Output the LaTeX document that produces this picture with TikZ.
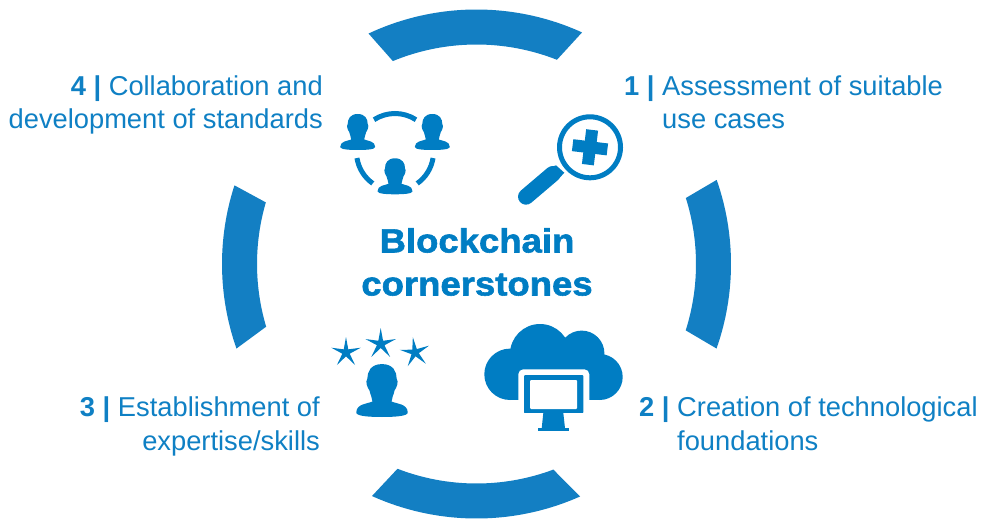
\documentclass[tikz,border=0pt]{standalone}
\usepackage{fontspec}
\setmainfont{Liberation Sans}
\newfontfamily\heavyfont[FakeStretch=1.09,FakeBold=1.7]{Liberation Sans Bold}
\definecolor{arcblue}{HTML}{137FC3}
\definecolor{iconblue}{HTML}{007DC3}
\definecolor{textblue}{HTML}{0F80C4}
\tikzset{
  bandarc/.style={fill=arcblue,draw=none},
  iconfill/.style={fill=iconblue,draw=none},
  ringseg/.style={draw=iconblue,line width=5pt,line cap=butt},
  sidelabel/.style={text=textblue,inner sep=0pt,font=\fontsize{27.3}{33.5}\selectfont},
  titlelabel/.style={text=iconblue,inner sep=0pt,align=center,font=\fontsize{33.5}{43}\heavyfont},
}
\newcommand{\personicon}[3]{%
  \fill[iconfill,shift={(#1,#2)},scale=#3]
    (0,-36) .. controls (7.5,-36) and (10,-31) .. (10,-26)
    .. controls (11.5,-24) and (10,-20) .. (8.5,-18)
    .. controls (8,-15) and (6.5,-13) .. (6.5,-10.5)
    .. controls (10,-9) and (17.5,-9) .. (17.5,-3)
    .. controls (17.5,-0.5) and (8,0) .. (0,0)
    .. controls (-8,0) and (-17.5,-0.5) .. (-17.5,-3)
    .. controls (-17.5,-9) and (-10,-9) .. (-6.5,-10.5)
    .. controls (-6.5,-13) and (-8,-15) .. (-8.5,-18)
    .. controls (-10,-20) and (-11.5,-24) .. (-10,-26)
    .. controls (-10,-31) and (-7.5,-36) .. (0,-36) -- cycle;}
\newcommand{\staricon}[4]{%
  \begin{scope}[shift={(#1,#2)},rotate=#4]
    \fill[iconfill] (90:#3pt) -- (126:0.25*#3pt) -- (162:#3pt) -- (198:0.25*#3pt)
      -- (234:#3pt) -- (270:0.25*#3pt) -- (306:#3pt) -- (342:0.25*#3pt)
      -- (18:#3pt) -- (54:0.25*#3pt) -- cycle;
  \end{scope}}
\begin{document}
\begin{tikzpicture}
\useasboundingbox (0,0) rectangle (982pt,520pt);
% ring bands
\begin{scope}[shift={(476.5pt,256pt)}]
  \fill[bandarc] (115.1:254.5pt) arc[start angle=115.1,end angle=65.5,radius=254.5pt]
    -- (68.5:219.5pt) arc[start angle=68.5,end angle=112.4,radius=219.5pt] -- cycle;
  \fill[bandarc] (245.75:254.5pt) arc[start angle=245.75,end angle=294,radius=254.5pt]
    -- (290.5:219.5pt) arc[start angle=290.5,end angle=248.9,radius=219.5pt] -- cycle;
  \fill[bandarc] (162:254.5pt) arc[start angle=162,end angle=199.4,radius=254.5pt]
    -- (196.6:219.5pt) arc[start angle=196.6,end angle=163.7,radius=219.5pt] -- cycle;
  \fill[bandarc] (19.3:254.5pt) arc[start angle=19.3,end angle=-19.4,radius=254.5pt]
    -- (-17.6:219.5pt) arc[start angle=-17.6,end angle=17.5,radius=219.5pt] -- cycle;
\end{scope}
% collaboration ring
\begin{scope}[shift={(395pt,368pt)}]
  \draw[ringseg] (57:38.5pt) arc[start angle=57,end angle=123,radius=38.5pt];
  \draw[ringseg] (189:38.5pt) arc[start angle=189,end angle=234.7,radius=38.5pt];
  \draw[ringseg] (-9:38.5pt) arc[start angle=-9,end angle=-54.7,radius=38.5pt];
\end{scope}
\begin{scope}[x=1pt,y=-1pt,yshift=520pt]
  % people
  \personicon{357.7}{150}{1}
  \personicon{432.3}{150}{1}
  \personicon{395}{194.3}{1}
  \personicon{382}{417}{1.47}
  % stars
  \staricon{346}{352.5}{15.5}{0}
  \staricon{380.7}{344}{16}{0}
  \staricon{415}{352.5}{15.5}{8}
  % magnifier
  \draw[draw=iconblue,line width=5pt] (590,147.3) circle[radius=30.5pt];
  \begin{scope}[shift={(590,147.3)},rotate=-7]
    \fill[iconfill] (-17.5,-6) rectangle (17.5,6);
    \fill[iconfill] (-6,-17.5) rectangle (6,17.5);
  \end{scope}
  \draw[draw=iconblue,line width=16pt,line cap=round] (526,196.7) -- (552.7,174);
  \fill[iconfill] (546.7,169) -- (556,165.3) -- (564.3,172.7) -- (558.3,179.3) -- cycle;
  % cloud
  \fill[iconfill] (510,374.3) circle[radius=25.7pt];
  \fill[iconfill] (599.7,377) circle[radius=23pt];
  \fill[iconfill] (540,354) circle[radius=30pt];
  \fill[iconfill] (581.7,353.3) circle[radius=22.7pt];
  \fill[iconfill] (510,360) rectangle (600,400);
  % monitor
  \fill[white,rounded corners=5pt] (518.3,369.3) rectangle (589.3,425);
  \fill[iconfill,rounded corners=1pt] (524,375) rectangle (583.3,413.3);
  \fill[white,rounded corners=1pt] (530,380) rectangle (577,409);
  \fill[white] (518.3,413.3) rectangle (589.3,432);
  \fill[iconfill] (543.3,413) -- (563.3,413) -- (565,428.3) -- (541.7,428.3) -- cycle;
  \fill[iconfill] (538.3,428.3) rectangle (569,430.5);
  % labels
  \node[titlelabel,anchor=center] (title) at (477,262) {Blockchain\\cornerstones};
  \node[sidelabel,align=right,anchor=north east] (four) at (323,75.2)
    {{\bfseries 4 | }Collaboration and\\development of standards};
  \node[sidelabel,align=left,anchor=north west] (one) at (662,75.2)
    {\llap{\bfseries 1 | }Assessment of suitable\\use cases};
  \node[sidelabel,align=right,anchor=north east] (three) at (320,397)
    {{\bfseries 3 | }Establishment of\\expertise/skills};
  \node[sidelabel,align=left,anchor=north west] (two) at (677,397)
    {\llap{\bfseries 2 | }Creation of technological\\foundations};
\end{scope}
\end{tikzpicture}
\end{document}
